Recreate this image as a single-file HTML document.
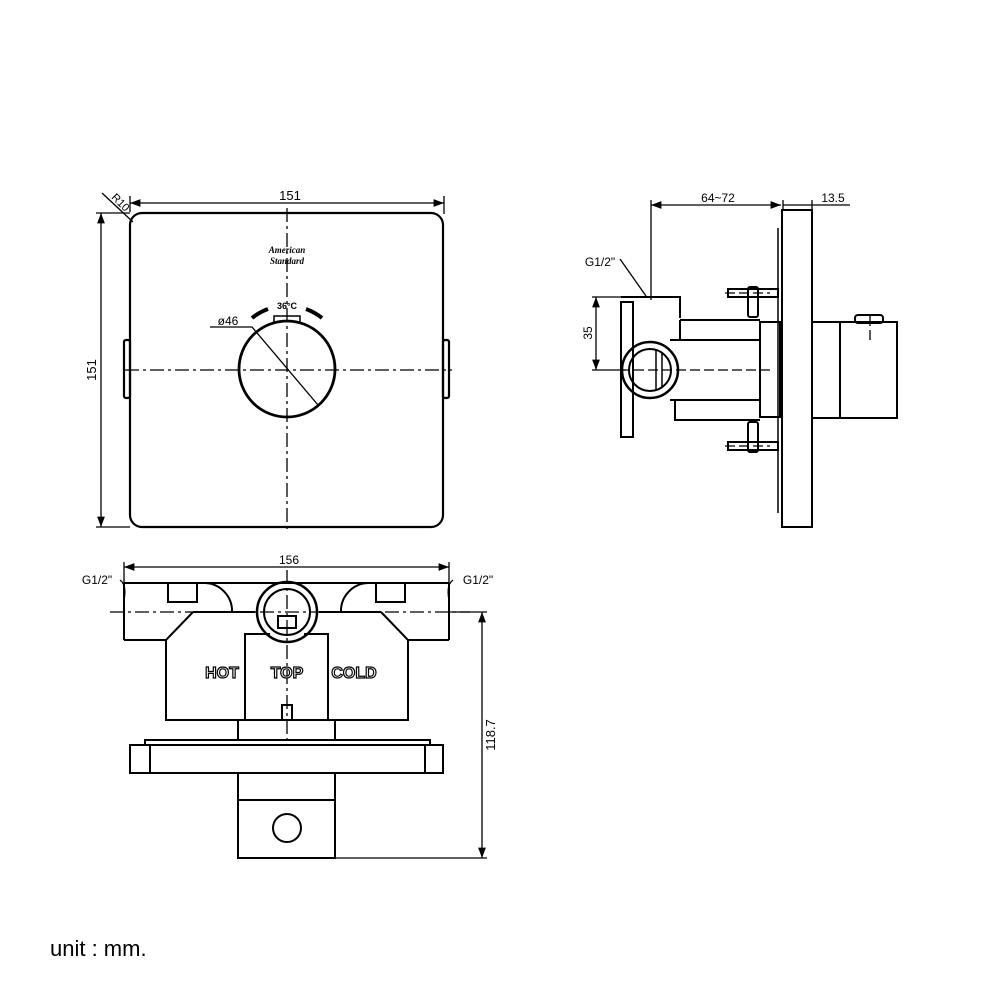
<!DOCTYPE html>
<html><head><style>body{margin:0;background:#fff}svg{display:block}</style></head><body>
<svg width="1000" height="1000" viewBox="0 0 1000 1000" xmlns="http://www.w3.org/2000/svg" font-family="Liberation Sans, sans-serif">
<defs><marker id="a" markerWidth="8" markerHeight="6" refX="8" refY="3" orient="auto-start-reverse"><path d="M0,0L8,3L0,6z" fill="#000"/></marker></defs>
<g fill="none" stroke="#000" stroke-width="2.2">
<!-- FRONT VIEW -->
<rect x="130" y="213" width="313" height="314" rx="12"/>
<rect x="124" y="340" width="6" height="58" rx="2"/>
<rect x="443" y="340" width="6" height="58" rx="2"/>
<circle cx="287" cy="369" r="48" stroke-width="2.8"/>
<path d="M274,322v-6h26v6" stroke-width="1.5"/>
<path d="M252,318 A56,56 0 0 1 268,309 M306,309 A56,56 0 0 1 322,318" stroke-width="4"/>
</g>
<g stroke="#000" stroke-width="1.3" fill="none">
<path d="M125,370H452" stroke-dasharray="14,4,3,4"/>
<path d="M287,208V532" stroke-dasharray="14,4,3,4"/>
<path d="M130,203H444" marker-start="url(#a)" marker-end="url(#a)"/>
<path d="M130,196V212M444,196V214"/>
<path d="M101,213V527" marker-start="url(#a)" marker-end="url(#a)"/>
<path d="M96,213H130M96,527H130"/>
<path d="M102,193L133,222"/>
<path d="M210,327H252L318,405"/>
</g>
<text x="290" y="200" font-size="13" text-anchor="middle">151</text>
<text transform="translate(96,370) rotate(-90)" font-size="13" text-anchor="middle">151</text>
<text transform="translate(118,205) rotate(45)" font-size="11" text-anchor="middle">R10</text>
<text x="228" y="325" font-size="12" text-anchor="middle">ø46</text>
<text x="287" y="309" font-size="9" font-weight="bold" text-anchor="middle">36°C</text>
<text x="287" y="253" font-size="9" font-style="italic" font-weight="bold" text-anchor="middle" font-family="Liberation Serif,serif">American</text>
<text x="287" y="264" font-size="9" font-style="italic" font-weight="bold" text-anchor="middle" font-family="Liberation Serif,serif">Standard</text>

<!-- SIDE VIEW -->
<g fill="none" stroke="#000" stroke-width="2">
<rect x="782" y="210" width="30" height="317"/>
<path d="M778,228V513" stroke-width="1.5"/>
<rect x="812" y="322" width="28" height="96"/>
<rect x="840" y="322" width="57" height="96"/>
<rect x="855" y="315" width="28" height="8" rx="3"/>
<rect x="760" y="322" width="20" height="95"/>
<path d="M680,320H760M680,320V340M670,340H760M670,400H760M675,400V420H760"/>
<rect x="728" y="289" width="50" height="8"/><rect x="748" y="287" width="10" height="30" rx="2"/>
<rect x="728" y="442" width="50" height="8"/><rect x="748" y="422" width="10" height="30" rx="2"/>
<path d="M621,297H680V318"/>
<rect x="621" y="302" width="12" height="135"/>
<circle cx="650" cy="370" r="28" stroke-width="2.5"/><circle cx="650" cy="370" r="21"/>
<path d="M656,350V390M662,352V388" stroke-width="1.5"/>
</g>
<g stroke="#000" stroke-width="1.3" fill="none">
<path d="M651,205H781" marker-start="url(#a)" marker-end="url(#a)"/>
<path d="M783,205H812M812,205H850"/>
<path d="M651,200V300M783,200V210M812,200V210"/>
<path d="M596,297V370" marker-start="url(#a)" marker-end="url(#a)"/>
<path d="M592,297H640M592,370H625"/>
<path d="M620,259L646,296"/>
<path d="M620,370H770M725,293H770M725,446H770M870,316V340" stroke-dasharray="10,4"/>
</g>
<text x="718" y="202" font-size="12" text-anchor="middle">64~72</text>
<text x="833" y="202" font-size="12" text-anchor="middle">13.5</text>
<text x="600" y="266" font-size="12" text-anchor="middle">G1/2"</text>
<text transform="translate(592,333) rotate(-90)" font-size="12" text-anchor="middle">35</text>

<!-- BOTTOM VIEW -->
<g fill="none" stroke="#000" stroke-width="2">
<path d="M124,583H449M124,640H166M408,640H449M124,583V640M449,583V640"/>
<rect x="168" y="583" width="29" height="19"/><rect x="376" y="583" width="29" height="19"/>
<path d="M205,583A28,28 0 0 1 232,612M368,583A28,28 0 0 0 341,612"/>
<path d="M193,612H255M319,612H381M193,612L166,640V720H408V640L381,612"/>
<path d="M245,720V634H270M304,634H328V720"/>
<circle cx="287" cy="612" r="30" stroke-width="2.5"/><circle cx="287" cy="612" r="23"/>
<rect x="278" y="616" width="18" height="12"/>
<rect x="238" y="720" width="97" height="20"/>
<rect x="130" y="745" width="313" height="28"/>
<path d="M145,745V740H430V745M150,745V773M425,745V773"/>
<rect x="238" y="773" width="97" height="85"/>
<path d="M238,800H335"/>
<circle cx="287" cy="828" r="14"/>
<path d="M282,720V705H292V720"/>
</g>
<g stroke="#000" stroke-width="1.3" fill="none">
<path d="M124,567H449" marker-start="url(#a)" marker-end="url(#a)"/>
<path d="M124,562V583M449,562V583"/>
<path d="M110,612H470M287,570V740" stroke-dasharray="14,4,3,4"/>
<path d="M482,612V858" marker-start="url(#a)" marker-end="url(#a)"/>
<path d="M449,612H487M335,858H487"/>
<path d="M120,580Q127,585 124,600M453,580Q446,585 449,600"/>
</g>
<text x="289" y="564" font-size="12" text-anchor="middle">156</text>
<text x="97" y="584" font-size="12" text-anchor="middle">G1/2"</text>
<text x="478" y="584" font-size="12" text-anchor="middle">G1/2"</text>
<text transform="translate(495,735) rotate(-90)" font-size="13" text-anchor="middle">118.7</text>
<g font-size="16" font-weight="bold" fill="#fff" stroke="#000" stroke-width="1.2" text-anchor="middle">
<text x="222" y="678">HOT</text><text x="287" y="678">TOP</text><text x="354" y="678">COLD</text>
</g>
<text x="50" y="956" font-size="22" fill="#000">unit : mm.</text>
</svg>
</body></html>
